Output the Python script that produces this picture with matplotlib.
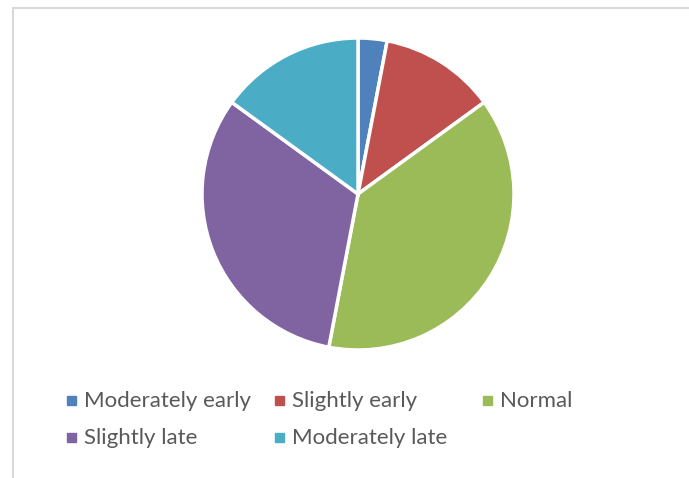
import matplotlib
matplotlib.use("Agg")
import matplotlib.pyplot as plt
from matplotlib.patches import Rectangle

categories = ["Moderately early", "Slightly early", "Normal", "Slightly late", "Moderately late"]
shares = [3, 12, 38, 32, 15]
colors = ["#4F81BD", "#C0504D", "#9BBB59", "#8064A2", "#4BACC6"]

W, H = 689, 478
fig = plt.figure(figsize=(W / 100, H / 100), dpi=100)

# chart area border (light grey, only top and left visible)
fig.add_artist(plt.Line2D([12.5 / W, 12.5 / W], [0, 1 - 7.5 / H], color="#D9D9D9", lw=1.5))
fig.add_artist(plt.Line2D([12.5 / W, 1], [1 - 7.5 / H, 1 - 7.5 / H], color="#D9D9D9", lw=1.5))

# pie centre and radius in pixels
cx, cy, r = 358, 194, 156
ax = fig.add_axes([(cx - r) / W, 1 - (cy + r) / H, 2 * r / W, 2 * r / H])
ax.pie(shares, colors=colors, startangle=90, counterclock=False,
       wedgeprops=dict(edgecolor="white", linewidth=2.5))
ax.set_xlim(-1, 1)
ax.set_ylim(-1, 1)
ax.set_aspect("equal")
ax.axis("off")

# legend, three equal columns, filled row by row
for i, (lab, col) in enumerate(zip(categories, colors)):
    x = 67 + (i % 3) * 208
    y = 400 + (i // 3) * 37
    fig.add_artist(Rectangle((x / W, 1 - (y + 5) / H), 9 / W, 9 / H,
                             transform=fig.transFigure, color=col))
    fig.text((x + 17) / W, 1 - (y + 1) / H, lab, fontsize=16, family="Lato",
             color="#595959", va="center", ha="left")

fig.savefig("out.png", dpi=100)
